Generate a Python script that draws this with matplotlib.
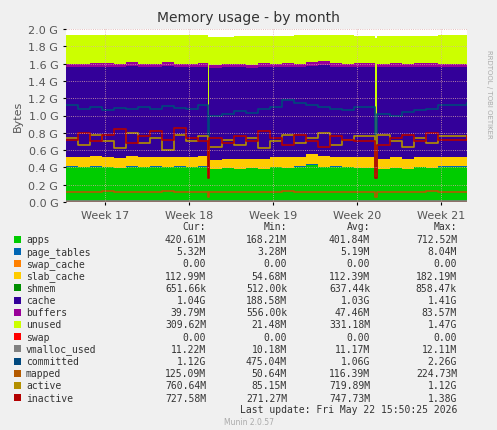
import matplotlib
matplotlib.use("Agg")
import matplotlib.pyplot as plt
import numpy as np

days = [0,1,2,3,4,5,6,7,8,9,10,11,11.8,11.95,13,14,15,16,17,18,19,20,21,22,23,24,25.75,25.9,27,28,29,30,31,33.4]
apps = [0.41,0.40,0.41,0.40,0.39,0.41,0.40,0.41,0.40,0.41,0.40,0.41,0.28,0.38,0.39,0.38,0.39,0.38,0.40,0.39,0.41,0.43,0.40,0.41,0.40,0.39,0.27,0.38,0.39,0.38,0.40,0.39,0.41,0.42]
page_tables = [0.005]*34
swap_cache = [0.0]*34
slab_cache = [0.11,0.11,0.12,0.11,0.11,0.12,0.11,0.11,0.12,0.11,0.11,0.12,0.06,0.10,0.10,0.11,0.10,0.11,0.11,0.12,0.11,0.12,0.13,0.11,0.11,0.12,0.06,0.11,0.12,0.11,0.11,0.12,0.11,0.12]
shmem = [0.00065]*34
cache = [1.03,1.04,1.03,1.05,1.05,1.04,1.04,1.03,1.05,1.03,1.04,1.03,0.20,1.06,1.06,1.06,1.05,1.07,1.04,1.05,1.03,1.02,1.05,1.04,1.04,1.05,0.20,1.06,1.05,1.06,1.05,1.05,1.03,1.03]
buffers = [0.04,0.04,0.04,0.04,0.04,0.04,0.04,0.04,0.04,0.04,0.04,0.04,0.005,0.04,0.04,0.04,0.04,0.04,0.04,0.04,0.04,0.04,0.04,0.04,0.04,0.04,0.005,0.04,0.04,0.04,0.04,0.04,0.04,0.04]
unused = [0.33,0.33,0.32,0.32,0.33,0.31,0.33,0.33,0.31,0.33,0.33,0.32,1.36,0.32,0.31,0.32,0.33,0.31,0.32,0.31,0.33,0.32,0.31,0.32,0.33,0.31,1.36,0.32,0.31,0.32,0.31,0.31,0.33,0.31]
committed = [1.12,1.08,1.10,1.06,1.09,1.08,1.10,1.07,1.11,1.09,1.08,1.12,0.50,1.00,1.02,1.05,1.03,1.08,1.10,1.18,1.15,1.12,1.10,1.08,1.06,1.10,0.50,1.02,1.00,1.04,1.06,1.08,1.12,1.15]
mapped = [0.12,0.11,0.12,0.13,0.11,0.12,0.12,0.11,0.13,0.12,0.11,0.12,0.06,0.11,0.12,0.11,0.12,0.12,0.11,0.13,0.12,0.11,0.12,0.12,0.11,0.12,0.06,0.11,0.12,0.12,0.11,0.13,0.12,0.12]
active = [0.74,0.66,0.78,0.70,0.62,0.80,0.68,0.74,0.60,0.78,0.70,0.76,0.30,0.64,0.72,0.66,0.74,0.62,0.70,0.78,0.68,0.74,0.80,0.66,0.72,0.76,0.30,0.78,0.70,0.64,0.74,0.68,0.76,0.72]
inactive = [0.72,0.80,0.70,0.78,0.84,0.68,0.76,0.82,0.72,0.86,0.74,0.70,0.28,0.74,0.68,0.76,0.70,0.82,0.74,0.66,0.78,0.70,0.64,0.76,0.72,0.70,0.28,0.66,0.74,0.78,0.70,0.80,0.72,0.76]

stack_vals = [apps,page_tables,swap_cache,slab_cache,shmem,cache,buffers,unused]
stack_cols = ["#00CC00","#0066B3","#FF8000","#FFCC00","#008F00","#330099","#990099","#CCFF00"]
line_vals = [[0.0]*34,[0.011]*34,committed,mapped,active,inactive]
line_cols = ["#FF0000","#808080","#00487D","#B35A00","#B38F00","#B30000"]

week_pos = [3.25,10.25,17.25,24.25,31.25]
week_labels = ["Week 17","Week 18","Week 19","Week 20","Week 21"]

fig = plt.figure(figsize=(4.97,4.31), dpi=100, facecolor="#F0F0F0")
ax = fig.add_axes([66/497, 1-203/431, 401/497, 173/431])
ax.set_facecolor("white")
x = np.array(days, dtype=float)
ax.stackplot(x, *stack_vals, colors=stack_cols, step="post", linewidth=0)
for v, c in zip(line_vals, line_cols):
    ax.step(x, v, where="post", color=c, lw=1.2)
ax.set_xlim(0, 33.4)
ax.set_ylim(0, 2.0)
ax.set_yticks(np.arange(0, 2.01, 0.2))
ax.set_yticklabels([f"{t:.1f} G" for t in np.arange(0, 2.01, 0.2)], fontsize=8, color="#555555")
ax.set_xticks(week_pos)
ax.set_xticklabels(week_labels, fontsize=8, color="#555555")
ax.grid(True, color="#DDAAAA", ls=":", lw=0.6)
ax.set_axisbelow(False)
ax.tick_params(length=2)
for s in ax.spines.values():
    s.set_visible(False)
ax.set_ylabel("Bytes", fontsize=8, color="#555555")
fig.text(0.5, 1-18/431, "Memory usage - by month", ha="center", va="center", fontsize=10, color="#333333")
fig.text(489/497, 0.78, "RRDTOOL / TOBI OETIKER", rotation=270, fontsize=5, color="#AAAAAA", ha="center", va="center")

mono = "DejaVu Sans Mono"
fs = 7
cols_x = [206, 287, 370, 457]
hdr = ["Cur:", "Min:", "Avg:", "Max:"]
for cx, h in zip(cols_x, hdr):
    fig.text(cx/497, 1-227/431, h, ha="right", va="center", fontsize=fs, family=mono, color="#333333")
rows = [
    ("apps","420.61M","168.21M","401.84M","712.52M"),
    ("page_tables","5.32M","3.28M","5.19M","8.04M"),
    ("swap_cache","0.00","0.00","0.00","0.00"),
    ("slab_cache","112.99M","54.68M","112.39M","182.19M"),
    ("shmem","651.66k","512.00k","637.44k","858.47k"),
    ("cache","1.04G","188.58M","1.03G","1.41G"),
    ("buffers","39.79M","556.00k","47.46M","83.57M"),
    ("unused","309.62M","21.48M","331.18M","1.47G"),
    ("swap","0.00","0.00","0.00","0.00"),
    ("vmalloc_used","11.22M","10.18M","11.17M","12.11M"),
    ("committed","1.12G","475.04M","1.06G","2.26G"),
    ("mapped","125.09M","50.64M","116.39M","224.73M"),
    ("active","760.64M","85.15M","719.89M","1.12G"),
    ("inactive","727.58M","271.27M","747.73M","1.38G"),
]
all_cols = stack_cols + line_cols
for i, r in enumerate(rows):
    y = 240 + i*12.2
    fig.patches.append(plt.Rectangle((14/497, 1-(y+3.5)/431), 7/497, 7/431, transform=fig.transFigure, facecolor=all_cols[i], edgecolor="none"))
    fig.text(26/497, 1-y/431, r[0], ha="left", va="center", fontsize=fs, family=mono, color="#333333")
    for cx, v in zip(cols_x, r[1:]):
        fig.text(cx/497, 1-y/431, v, ha="right", va="center", fontsize=fs, family=mono, color="#333333")
fig.text(457/497, 1-410/431, "Last update: Fri May 22 15:50:25 2026", ha="right", va="center", fontsize=fs, family=mono, color="#333333")
fig.text(0.5, 1-423/431, "Munin 2.0.57", ha="center", va="center", fontsize=5.5, color="#AAAAAA")
fig.savefig("out.png", dpi=100, facecolor=fig.get_facecolor())
